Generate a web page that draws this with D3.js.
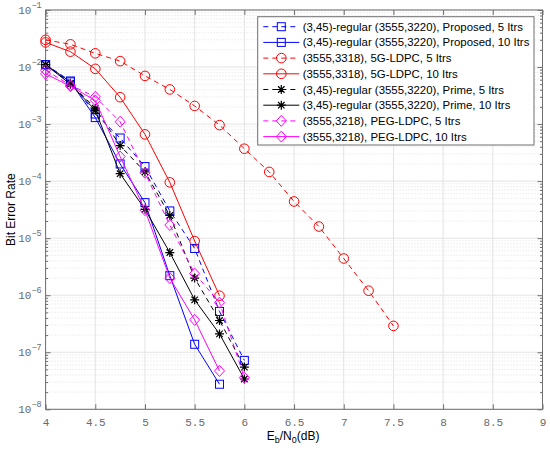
<!DOCTYPE html>
<html><head><meta charset="utf-8">
<script src="https://cdn.jsdelivr.net/npm/d3@7"></script>
<style>body{margin:0;background:#fff}svg{display:block}</style>
</head><body>
<script>
// ---- data ----
const ebn0Long = [4,4.25,4.5,4.75,5,5.25,5.5,5.75,6,6.25,6.5,6.75,7,7.25,7.5];
const ebn0 = [4,4.25,4.5,4.75,5,5.25,5.5,5.75,6];
const proposed5 = [1.1e-2,5.7e-3,1.5e-3,5.7e-4,1.8e-4,3.0e-5,6.6e-6,5.2e-7,7.2e-8];
const proposed10 = [1.1e-2,5.5e-3,1.3e-3,2.0e-4,4.2e-5,2.2e-6,1.38e-7,2.75e-8];
const ldpc5g5 = [3.0e-2,2.5e-2,1.74e-2,1.27e-2,7.0e-3,4.05e-3,2.08e-3,9.6e-4,3.7e-4,1.45e-4,4.4e-5,1.6e-5,4.4e-6,1.2e-6,2.9e-7];
const ldpc5g10 = [2.7e-2,1.86e-2,9.3e-3,2.96e-3,6.6e-4,9.5e-5,8.9e-6,9.8e-7];
const prime5 = [1.1e-2,5.2e-3,1.9e-3,4.2e-4,1.45e-4,2.5e-5,2.0e-6,3.6e-7,5.5e-8];
const prime10 = [1.1e-2,5.0e-3,1.75e-3,1.35e-4,3.2e-5,5.6e-6,8.3e-7,2.1e-7,3.4e-8];
const peg5 = [8.8e-3,4.8e-3,3.0e-3,1.1e-3,1.4e-4,1.7e-5,2.4e-6,7.4e-7,3.6e-8];
const peg10 = [7.6e-3,4.6e-3,2.6e-3,2.7e-4,3.1e-5,2.0e-6,3.7e-7,4.7e-8];
const seriesNames = [
 "(3,45)-regular (3555,3220), Proposed, 5 Itrs",
 "(3,45)-regular (3555,3220), Proposed, 10 Itrs",
 "(3555,3318), 5G-LDPC, 5 Itrs",
 "(3555,3318), 5G-LDPC, 10 Itrs",
 "(3,45)-regular (3555,3220), Prime, 5 Itrs",
 "(3,45)-regular (3555,3220), Prime, 10 Itrs",
 "(3555,3218), PEG-LDPC, 5 Itrs",
 "(3555,3218), PEG-LDPC, 10 Itrs"];
const xTicks = [4,4.5,5,5.5,6,6.5,7,7.5,8,8.5,9];
const yExps = [-1,-2,-3,-4,-5,-6,-7,-8];

const series = [
 {name:seriesNames[0], x:ebn0, y:proposed5, color:"#0000ff", dash:true, marker:"square"},
 {name:seriesNames[1], x:ebn0, y:proposed10, color:"#0000ff", dash:false, marker:"square"},
 {name:seriesNames[2], x:ebn0Long, y:ldpc5g5, color:"#ff0000", dash:true, marker:"circle"},
 {name:seriesNames[3], x:ebn0, y:ldpc5g10, color:"#ff0000", dash:false, marker:"circle"},
 {name:seriesNames[4], x:ebn0, y:prime5, color:"#000000", dash:true, marker:"star"},
 {name:seriesNames[5], x:ebn0, y:prime10, color:"#000000", dash:false, marker:"star"},
 {name:seriesNames[6], x:ebn0, y:peg5, color:"#ff00ff", dash:true, marker:"diamond"},
 {name:seriesNames[7], x:ebn0, y:peg10, color:"#ff00ff", dash:false, marker:"diamond"}];

const W=550,H=451;
const L=45.6,R=542.5,T=10,B=409.3;
const svg=d3.select("body").append("svg").attr("width",W).attr("height",H);
const x=d3.scaleLinear().domain([4,9]).range([L,R]);
const y=d3.scaleLog().domain([1e-8,1e-1]).range([B,T]);

// grid
const gGrid=svg.append("g");
const minorVals=[];
for(let e=-8;e<-1;e++) for(let k=2;k<=9;k++) minorVals.push(k*Math.pow(10,e));
gGrid.selectAll(".minor").data(minorVals).enter().append("line")
 .attr("x1",L).attr("x2",R).attr("y1",d=>y(d)).attr("y2",d=>y(d))
 .attr("stroke","#d4d4d4").attr("stroke-width",0.7).attr("stroke-dasharray","1,2");
gGrid.selectAll(".majy").data(yExps.map(e=>Math.pow(10,e))).enter().append("line")
 .attr("x1",L).attr("x2",R).attr("y1",d=>y(d)).attr("y2",d=>y(d))
 .attr("stroke","#e3e3e3").attr("stroke-width",1);
gGrid.selectAll(".majx").data(xTicks).enter().append("line")
 .attr("x1",d=>x(d)).attr("x2",d=>x(d)).attr("y1",T).attr("y2",B)
 .attr("stroke","#e3e3e3").attr("stroke-width",1);

// axes
const axCol="#6e6e6e";
const fmtX=d=>String(d);
const xAxB=d3.axisBottom(x).tickValues(xTicks).tickFormat(fmtX).tickSizeInner(-5).tickSizeOuter(0).tickPadding(9);
const xAxT=d3.axisTop(x).tickValues(xTicks).tickFormat("").tickSizeInner(-5).tickSizeOuter(0);
const yAxL=d3.axisLeft(y).tickValues(yExps.map(e=>Math.pow(10,e))).tickFormat("").tickSizeInner(-5).tickSizeOuter(0);
const yAxR=d3.axisRight(y).tickValues(yExps.map(e=>Math.pow(10,e))).tickFormat("").tickSizeInner(-5).tickSizeOuter(0);
const yMinL=d3.axisLeft(y).tickValues(minorVals).tickFormat("").tickSizeInner(-2.5).tickSizeOuter(0);
const yMinR=d3.axisRight(y).tickValues(minorVals).tickFormat("").tickSizeInner(-2.5).tickSizeOuter(0);
function style(g){g.selectAll("path,line").attr("stroke",axCol);g.select(".domain").remove();}
svg.append("g").attr("transform",`translate(0,${B})`).call(xAxB).call(style)
 .selectAll("text").attr("fill","#6a6a6a").style("font-family","'Liberation Mono',monospace").style("font-size","11px");
svg.append("g").attr("transform",`translate(0,${T})`).call(xAxT).call(style);
svg.append("g").attr("transform",`translate(${L},0)`).call(yAxL).call(style);
svg.append("g").attr("transform",`translate(${R},0)`).call(yAxR).call(style);
svg.append("g").attr("transform",`translate(${L},0)`).call(yMinL).call(style);
svg.append("g").attr("transform",`translate(${R},0)`).call(yMinR).call(style);
svg.append("rect").attr("x",L).attr("y",T).attr("width",R-L).attr("height",B-T)
 .attr("fill","none").attr("stroke",axCol).attr("stroke-width",1);

// y tick labels with superscripts
const yl=svg.append("g").style("font-family","'Liberation Mono',monospace").attr("fill","#6a6a6a");
yExps.forEach(e=>{
 const t=yl.append("text").attr("x",L-4).attr("y",y(Math.pow(10,e))+4).attr("text-anchor","end").style("font-size","11px");
 t.append("tspan").text("10");
 t.append("tspan").attr("dy",-6).style("font-size","8.5px").text(String(e).replace("-","\u2212"));
});

// axis labels
svg.append("text").attr("transform",`translate(15,${(T+B)/2}) rotate(-90)`).attr("text-anchor","middle")
 .style("font-family","'Liberation Sans',Arial,sans-serif").style("font-size","12px").text("Bit Error Rate");
const xl=svg.append("text").attr("x",(L+R)/2-1).attr("y",440).attr("text-anchor","middle")
 .style("font-family","'Liberation Sans',Arial,sans-serif").style("font-size","12px");
xl.append("tspan").text("E");
xl.append("tspan").attr("dy",3).style("font-size","9px").text("b");
xl.append("tspan").attr("dy",-3).text("/N");
xl.append("tspan").attr("dy",3).style("font-size","9px").text("0");
xl.append("tspan").attr("dy",-3).text("(dB)");

// markers
function drawMarker(g,type,cx,cy,color){
 if(type==="square") g.append("rect").attr("x",cx-4).attr("y",cy-4).attr("width",8).attr("height",8).attr("fill","none").attr("stroke",color).attr("stroke-width",1);
 else if(type==="circle") g.append("circle").attr("cx",cx).attr("cy",cy).attr("r",4.8).attr("fill","none").attr("stroke",color).attr("stroke-width",1);
 else if(type==="diamond") g.append("path").attr("d",`M${cx},${cy-5.5}L${cx+5},${cy}L${cx},${cy+5.5}L${cx-5},${cy}Z`).attr("fill","none").attr("stroke",color).attr("stroke-width",1);
 else if(type==="star"){
  const r=4.5,d=r*0.72;
  g.append("path").attr("d",`M${cx-r},${cy}L${cx+r},${cy}M${cx},${cy-r}L${cx},${cy+r}M${cx-d},${cy-d}L${cx+d},${cy+d}M${cx-d},${cy+d}L${cx+d},${cy-d}`)
   .attr("stroke",color).attr("stroke-width",1.2).attr("fill","none");
 }
}

// plot
const plot=svg.append("g");
const line=d3.line().x(d=>x(d[0])).y(d=>y(d[1]));
series.forEach(s=>{
 const pts=s.y.map((v,i)=>[s.x[i],v]);
 plot.append("path").attr("d",line(pts)).attr("fill","none").attr("stroke",s.color).attr("stroke-width",1)
  .attr("stroke-dasharray",s.dash?"5,4":null);
 const mg=plot.append("g");
 pts.forEach(p=>drawMarker(mg,s.marker,x(p[0]),y(p[1]),s.color));
});

// legend
const lx=257.7, ly=16.7, lw=276.3, lh=128.3, rowH=15.7;
const lg=svg.append("g");
lg.append("rect").attr("x",lx).attr("y",ly).attr("width",lw).attr("height",lh).attr("fill","#fff").attr("stroke","#6e6e6e").attr("stroke-width",1);
series.forEach((s,i)=>{
 const cy=ly+10+i*rowH;
 lg.append("line").attr("x1",lx+5.6).attr("x2",lx+41.6).attr("y1",cy).attr("y2",cy).attr("stroke",s.color).attr("stroke-width",1)
  .attr("stroke-dasharray",s.dash?"5,4":null);
 drawMarker(lg,s.marker,lx+23.6,cy,s.color);
 lg.append("text").attr("x",lx+45).attr("y",cy+4).style("font-family","'Liberation Sans',Arial,sans-serif").style("font-size","11.4px").attr("fill","#000").text(s.name);
});
</script>
</body></html>
